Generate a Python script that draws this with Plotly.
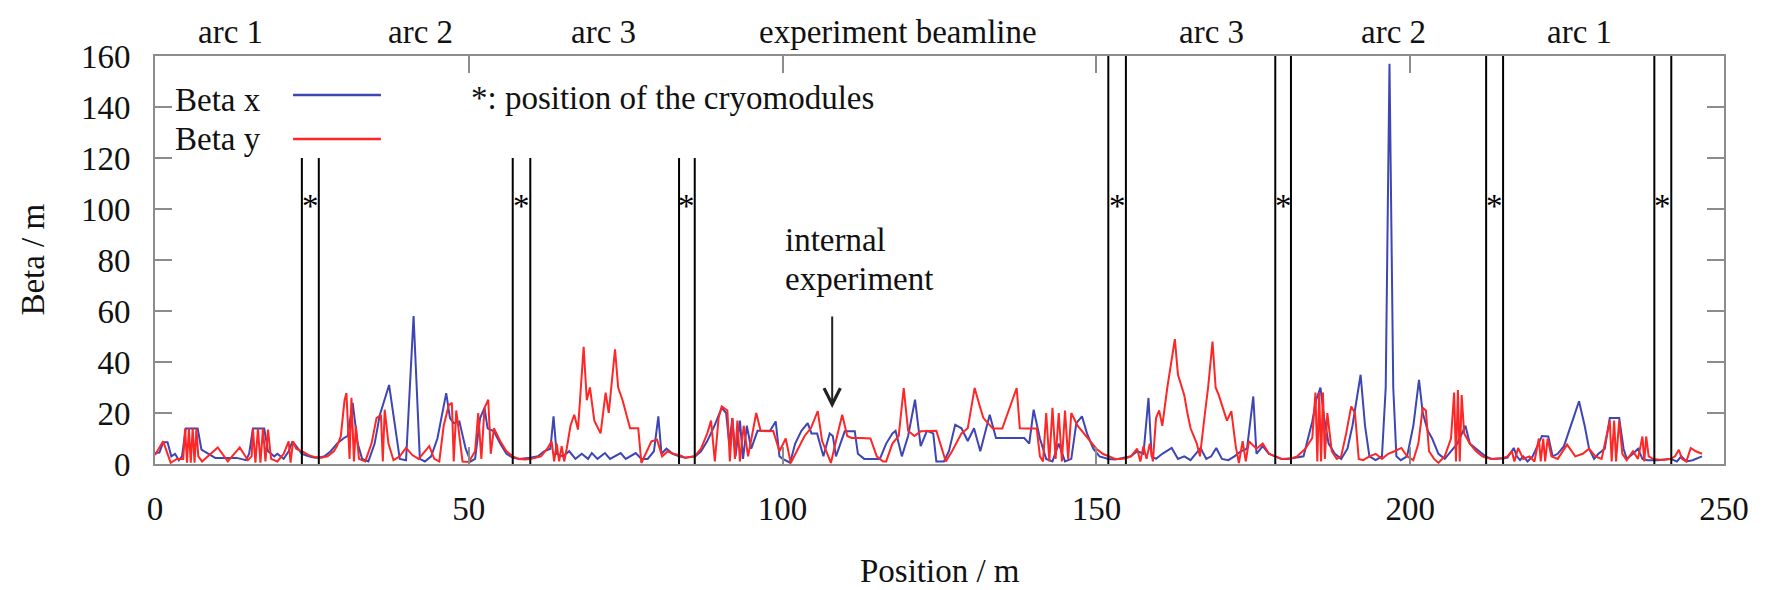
import plotly.graph_objects as go

# ---------------- data: (position in m, beta in m) ----------------
# Beta x (blue), by section
bx_arc1a = [(0,4.3),(0.7,4.5),(1.3,8.5),(2,8.5),(2.6,3),(3.2,4),(3.8,1.5),(4.3,3),(4.9,13.9),(6.8,13.9),
            (7.4,5.6),(8.5,4),(9.6,2.4),(11,2.4),(13,2.4),(14.5,1.5),(15,4),(15.6,13.9),(17.4,13.9),(18,5),
            (19,3),(19.5,4),(20.5,2),(21.3,5),(21.9,8.9),(22.5,7),(23.4,4),(24.5,3),(25.5,2.5)]
bx_arc2a = [(26.1,2.5),(27,3),(28,5),(29,8),(30,10),(30.7,11),(31.5,24),(32.3,8),(33,2),(34,1),(35,8),
            (35.8,19),(37.3,31),(38.3,14),(39,2),(40,1.5),(41.2,58),(42.2,2),(43,1),(44,3),(45,10),(46.4,27.8),
            (47,18),(47.6,16),(48.5,16.7),(49.5,6),(50.3,1),(51,2),(51.8,18),(52.5,22),(53,14),(54,12.8),
            (55,8),(56,4),(57,2.5),(58,2),(59,2.2)]
bx_arc3a = [(59.8,2.5),(61,3),(62,5),(63,6),(63.5,18.7),(64,4),(65,3),(66,5),(67,2),(68,4),(69,2),(69.6,4.3),
            (70.5,2),(71.7,4.3),(72.5,2),(74.2,4.3),(75,2),(76.6,4.3),(77.5,2),(78.5,2),(79.5,5),(80.2,18.7),
            (80.7,4),(81.5,6),(82.5,4),(83.5,3),(84.5,2.5),(85.5,2.8)]
bx_exp = [(86.1,3),(87,5),(88,9),(89.1,14.8),(90.3,22),(91,20),(91.5,8),(92,18),(92.5,3),(93.2,17),(93.7,2),
          (94.3,15),(95,6),(96,13),(97,13),(98,13),(98.9,16.7),(99.5,3),(100,2),(101.2,0.5),(102,8),(103,13),
          (104,16),(104.6,12),(105.5,12),(106.5,3),(107.5,12),(108,11),(108.5,3),(109.9,12.8),(111.5,12.8),
          (112,4),(113,2),(114,2),(115.5,2),(116.5,8),(117.5,12),(118,13),(119,3),(120,11),(121.1,25.2),
          (122,7),(123,13),(124,12),(124.5,1),(125.7,1),(126.5,5),(127.5,15.4),(128.5,14),(129.5,9),
          (130.5,14),(131.5,5),(133,19.3),(134,10.2),(135.5,10.2),(137,10.2),(138.5,10.2),(139.3,8),
          (140,21.3),(141,10),(142,2),(143,1),(144,8),(145,1),(146,2),(146.8,16),(147.7,18.7),(148.5,12),
          (149.5,6),(150.5,3),(151.9,2),(153,1.8)]
bx_arc3b = [(154.7,2.5),(155.5,3),(156.5,5),(157.5,4),(158.3,25.9),(158.8,3),(159.5,2),(160.5,4),(162,6.3),
            (163,2),(164,3),(165,1.5),(166.6,6.3),(167.5,2),(168.3,3),(169.1,6.3),(170,2),(171,1.5),(172,3),
            (173,5),(174,6),(175,26.5),(175.5,4),(176.5,7),(177.5,4),(178.5,3),(179.5,2),(180.5,2)]
bx_arc2b = [(181,2.2),(182,2.5),(183,3),(184.4,16.7),(185,25),(185.7,30),(186.3,18),(187,8),(188,4),(189,2),
            (190,6),(190.8,15),(191.5,25),(192.1,35),(192.8,15),(193.5,3),(194.5,1.5),(195.5,3),(196.1,30),
            (196.7,157),(197.3,30),(197.8,3),(198.5,1.5),(199.5,3),(200.5,15),(201.4,33),(202,20),(202.8,13),
            (203.5,10),(204.5,4),(205.5,2),(206.5,5),(207.5,8),(208.8,15),(209.5,8),(210.5,6),(211.5,4),
            (212,3),(213,2),(214,2)]
bx_arc1b = [(214.8,2.2),(215.5,2.5),(216.5,6.3),(217,3),(217.5,1.5),(218,3),(218.7,1),(219.5,3),(220.3,7),
            (221,11),(222,10.8),(222.7,3),(223.5,4),(224.5,7),(226,18),(226.9,24.6),(227.8,15),(228.5,6),
            (229.3,2),(230,4),(231,6),(231.8,18),(233.3,18),(234,6),(234.5,2),(235.5,4),(236.3,6),(237,2),
            (237.8,1.5),(238.7,1.5),(239.5,1.5),(240.5,1.8),(241.5,2),(242.5,1),(243.2,3),(244,1),(245,1.5),
            (246.5,3)]

# Beta y (red), by section
by_arc1a = [(0,3.5),(0.6,6),(1.3,8.9),(2,4),(2.5,0.5),(3.5,2),(4.5,2),(4.8,13.9),(5.1,0.5),(5.4,13.9),
            (5.7,0.5),(6,13.9),(6.3,0.5),(6.6,13.9),(6.9,3),(7.5,1),(10,6.5),(11.6,1),(13.5,6.5),(14.8,1.5),
            (15.4,3),(15.6,13.9),(16,0.5),(16.4,13.9),(16.8,0.5),(17.2,13.9),(17.6,1),(18,13.5),(18.5,2),
            (19.5,1),(20.5,4),(21.3,8.9),(21.6,0.5),(22,8.9),(22.5,6),(23.4,5),(24.5,3.5),(25.5,2.7)]
by_arc2a = [(26.5,2.5),(27.5,3),(28.5,5),(29,7),(29.6,10.8),(30.2,25),(30.5,27.8),(31,2),(31.3,26),(31.7,1),
            (32,15),(32.5,2),(33.5,1),(34.5,8),(35.3,18),(36,19.3),(36.3,1),(36.6,21.3),(37.2,8),(38,1.5),
            (39,3),(40,6.3),(41,3.5),(42,2),(43.7,7),(44.5,2),(45.3,1),(46,15),(46.8,23),(47.3,24),(47.6,1),
            (48,21),(48.5,10),(49,1),(50,0.8),(51,5),(51.5,20),(52,2),(52.5,22),(53.1,25.2),(53.5,4),(54,14),
            (55,9),(56,5),(57,3),(58,2),(59,1.8)]
by_arc3a = [(59.8,2),(61.5,3),(62.5,6),(63.2,8.9),(63.6,1),(64,8),(64.4,1),(64.8,7),(65.2,1),(65.6,6),
            (66.2,15),(66.8,19.3),(67.4,13.5),(68.3,46),(68.8,25),(69.3,30),(70,17),(71,12),(71.8,28),
            (72.3,20),(73.3,45),(73.8,30),(74.5,25),(75.7,14),(77,14),(77.5,0.4),(78.3,5),(79.1,8.9),(80,9.5),
            (80.8,3),(81.7,5),(82.5,4),(83.5,3.5),(84.5,2.5),(85.5,2.8)]
by_exp = [(86,3),(87,6),(88,12),(88.6,17),(89.2,1),(89.8,18),(90.3,22.6),(91.2,21),(91.6,1),(92,18),(92.4,2),
          (92.8,17),(93.2,1),(93.8,15),(94.5,3),(95.8,20),(96.5,13),(98,12.8),(98.5,13),(99.5,5),(100.5,10),
          (101.3,0.4),(102.5,6),(103.5,11),(104.5,14),(105.6,20.7),(106.3,9),(107.7,0.4),(108.5,9),(109.5,19.3),
          (110.3,11),(111,10.2),(112.5,10.2),(114,10),(115,3),(116,1),(116.5,1),(117.5,8),(118.5,11),
          (119.3,29.8),(120,13),(121,11),(122,12.8),(123.5,12.8),(124.5,13),(125.5,5),(126,1),(127,5),
          (128.5,12),(129.5,14),(130.6,29.8),(131.5,22),(132,18),(133.5,13.9),(135,13.9),(137.3,29.8),
          (137.8,14),(139,13.9),(140.5,13.9),(141,3),(141.5,1),(142,20),(142.5,1),(143,22),(143.5,2),(144,20),
          (144.5,1),(145,21),(145.5,2),(146,20),(147,15),(148,12),(149,9),(150,6),(151,4),(152,3),(153,2),
          (154,2)]
by_arc3b = [(154.7,2.2),(155.5,3),(156.5,6),(157,1),(157.5,7),(158,2),(158.5,8),(159,1),(159.5,18),(160,21),
            (160.5,15),(161.3,30),(162.5,49),(163,35),(163.6,30),(164,27),(164.5,20),(165,14),(166,8),
            (166.5,3),(167.3,20),(167.8,30),(168.5,48),(169,30),(169.5,27),(170,23),(170.8,17),(171.5,20.7),
            (172.2,7),(172.7,0.4),(173.3,9),(173.8,1),(174.3,8.9),(175.5,6),(176.5,8),(177.5,4),(178.5,3),
            (179.5,2),(180.5,2.2)]
by_arc2b = [(181,2.2),(182,3),(183.3,6),(184.4,10.2),(184.9,28),(185.2,1),(185.5,28),(185.8,1),(186.1,28),
            (186.4,2),(186.8,20),(187.5,5),(188.3,2),(189,3),(189.8,12),(190.6,22.6),(191.2,20),(191.8,2),
            (192.5,1.5),(193.5,3),(194.5,4),(195.5,2),(196.5,4),(197.5,5),(198.6,6.3),(199.5,3),(200.5,1.5),
            (201.3,8),(202,22),(202.5,21),(203,5),(203.8,2),(204.5,0.5),(205.5,3),(206.5,10),(207,28),
            (207.3,1),(207.6,29),(207.9,1),(208.2,27),(208.6,12),(209.5,8),(210.5,5),(211.5,3),(212,2.5),
            (213,2),(214,2.2)]
by_arc1b = [(214.8,2.4),(215.5,3),(216.2,5),(216.6,1),(217.2,6.3),(218,2),(219,3),(219.8,1),(220.5,10),
            (220.8,1),(221.2,10),(221.5,1),(221.9,10),(222.5,3),(223.5,2),(225,7.6),(226.3,3),(227.5,4),
            (228.5,6),(229.5,3),(230.5,2),(231.8,17),(232.1,1),(232.5,17),(232.8,1),(233.3,17),(233.8,4),
            (234.5,1.5),(235.5,5),(236.3,2),(237,10.8),(237.3,1),(237.6,10.8),(238,3),(238.7,2),(239.5,1.8),
            (240.5,1.7),(241.5,2),(242.2,3),(242.8,5.6),(243.3,2),(244,1),(244.7,6.3),(245.5,5),(246.5,4)]

beta_x_sections = [bx_arc1a, bx_arc2a, bx_arc3a, bx_exp, bx_arc3b, bx_arc2b, bx_arc1b]
beta_y_sections = [by_arc1a, by_arc2a, by_arc3a, by_exp, by_arc3b, by_arc2b, by_arc1b]

# cryomodule pairs (position of each of the two lines) and line top
cryo_left = [23.4, 57.0, 83.5, 151.9, 178.5, 212.1, 238.9]
cryo_right = [26.1, 59.8, 86.0, 154.7, 181.0, 214.8, 241.6]
cryo_top = [120, 120, 120, 160, 160, 160, 160]

section_names = ["arc 1", "arc 2", "arc 3", "experiment beamline", "arc 3", "arc 2", "arc 1"]
section_centers = [12.0, 42.3, 71.4, 118.4, 168.3, 197.4, 227.0]

x_ticks = [0, 50, 100, 150, 200, 250]
y_ticks = [0, 20, 40, 60, 80, 100, 120, 140, 160]

BLUE = "#3d46b4"
RED = "#ff2626"
FONT = "Liberation Serif"
FS = 33
GRAY = "#8c8c8c"
TXT = "#111111"


def unzip(sections):
    xs, ys = [], []
    for sec in sections:
        for p, b in sec:
            xs.append(p)
            ys.append(b)
    return xs, ys


pos_x, beta_x = unzip(beta_x_sections)
pos_y, beta_y = unzip(beta_y_sections)

fig = go.Figure()
fig.add_trace(go.Scatter(x=pos_x, y=beta_x, mode="lines", name="Beta x",
                         line=dict(color=BLUE, width=2)))
fig.add_trace(go.Scatter(x=pos_y, y=beta_y, mode="lines", name="Beta y",
                         line=dict(color=RED, width=2)))

shapes = []
annotations = []
for xl, xr, top in zip(cryo_left, cryo_right, cryo_top):
    for xv in (xl, xr):
        shapes.append(dict(type="line", xref="x", yref="y", x0=xv, x1=xv, y0=0, y1=top,
                           line=dict(color="black", width=2)))
    annotations.append(dict(x=(xl + xr) / 2, y=101, xref="x", yref="y", text="*", showarrow=False,
                            xanchor="center", yanchor="middle",
                            font=dict(family=FONT, size=FS, color="black")))

for name, c in zip(section_names, section_centers):
    annotations.append(dict(x=c, y=1.058, xref="x", yref="paper", text=name, showarrow=False,
                            xanchor="center", yanchor="middle", font=dict(family=FONT, size=FS, color=TXT)))

# legend (text left, line right)
annotations.append(dict(x=2.9, y=142.9, xref="x", yref="y", text="Beta x", showarrow=False,
                        xanchor="left", yanchor="middle", font=dict(family=FONT, size=FS, color=TXT)))
annotations.append(dict(x=2.9, y=127.3, xref="x", yref="y", text="Beta y", showarrow=False,
                        xanchor="left", yanchor="middle", font=dict(family=FONT, size=FS, color=TXT)))
shapes.append(dict(type="line", xref="x", yref="y", x0=22.0, x1=36.0, y0=144.7, y1=144.7,
                   line=dict(color=BLUE, width=2.5)))
shapes.append(dict(type="line", xref="x", yref="y", x0=22.0, x1=36.0, y0=127.5, y1=127.5,
                   line=dict(color=RED, width=2.5)))
annotations.append(dict(x=50.0, y=143.5, xref="x", yref="y", text="*: position of the cryomodules",
                        showarrow=False, xanchor="left", yanchor="middle",
                        font=dict(family=FONT, size=FS, color=TXT)))

# internal experiment label and arrow
annotations.append(dict(x=100.1, y=88.0, xref="x", yref="y", text="internal", showarrow=False,
                        xanchor="left", yanchor="middle", font=dict(family=FONT, size=FS, color=TXT)))
annotations.append(dict(x=100.1, y=72.4, xref="x", yref="y", text="experiment", showarrow=False,
                        xanchor="left", yanchor="middle", font=dict(family=FONT, size=FS, color=TXT)))
annotations.append(dict(x=107.9, y=22, ax=107.9, ay=58.4, xref="x", yref="y", axref="x", ayref="y",
                        text="", showarrow=True, arrowhead=5, arrowsize=1.6, arrowwidth=2, arrowcolor="#222"))

# axis titles
annotations.append(dict(x=-0.078, y=0.5, xref="paper", yref="paper", text="Beta / m", textangle=-90,
                        showarrow=False, xanchor="center", yanchor="middle",
                        font=dict(family=FONT, size=FS, color=TXT)))
annotations.append(dict(x=0.5, y=-0.262, xref="paper", yref="paper", text="Position / m",
                        showarrow=False, xanchor="center", yanchor="middle",
                        font=dict(family=FONT, size=FS, color=TXT)))

axis_common = dict(showgrid=False, zeroline=False, showline=True, linecolor=GRAY, linewidth=2,
                   mirror="ticks", ticks="inside", ticklen=17, tickwidth=2, tickcolor=GRAY,
                   tickfont=dict(family=FONT, size=FS, color=TXT))

fig.update_layout(
    width=1765, height=590,
    margin=dict(l=147, r=49, t=48, b=134),
    paper_bgcolor="white", plot_bgcolor="white",
    showlegend=False,
    shapes=shapes, annotations=annotations,
    xaxis=dict(range=[0, 250], tickvals=x_ticks, ticklabelstandoff=14, **axis_common),
    yaxis=dict(range=[0, 160], tickvals=y_ticks, ticklabelstandoff=16, **axis_common),
)

fig.write_html("out.html")
